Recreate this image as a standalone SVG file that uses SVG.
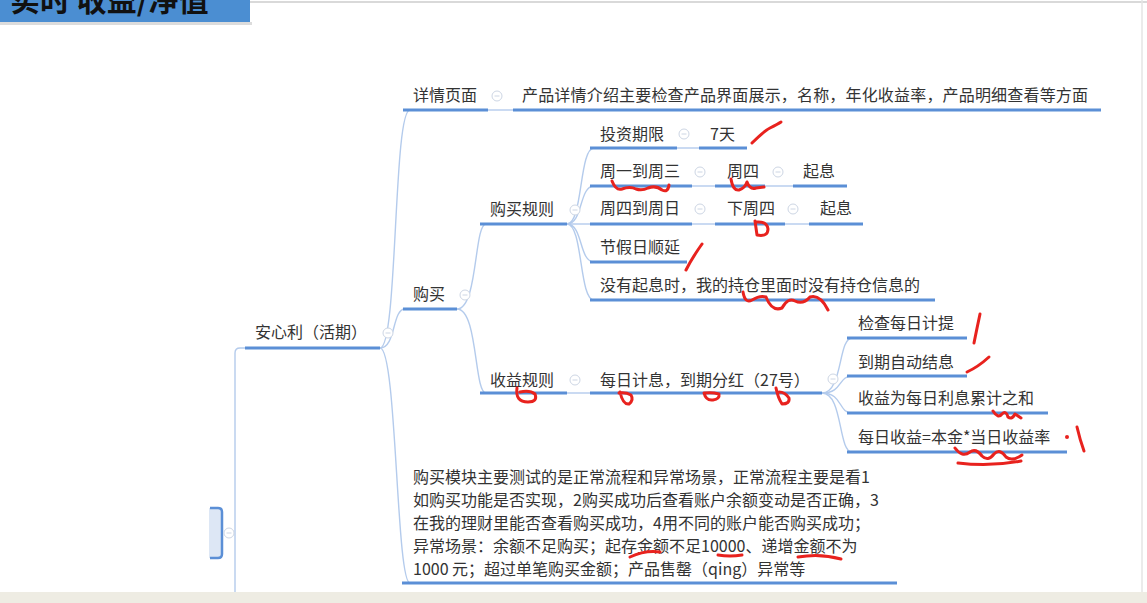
<svg xmlns="http://www.w3.org/2000/svg" width="1147" height="603" viewBox="0 0 1147 603">
<defs>
<style>
.t{font-family:"Noto Sans CJK SC","Noto Sans",sans-serif;font-size:16px;fill:#333}
.u{stroke:#5b8fd6;stroke-width:3;fill:none;stroke-linecap:butt}
.c{stroke:#b4cbec;stroke-width:1.4;fill:none}
.k{fill:#fff;stroke:#cdd6e4;stroke-width:1}
.km{stroke:#cdd6e4;stroke-width:1}
.r{stroke:#e8221e;stroke-width:3;fill:none;stroke-linecap:round;stroke-linejoin:round}
</style>
<clipPath id="hc"><rect x="0" y="0" width="250" height="22"/></clipPath>
<g id="col"><circle class="k" cx="0" cy="0" r="5"/><line class="km" x1="-2.5" y1="0" x2="2.5" y2="0"/></g>
</defs>
<rect x="0" y="0" width="1147" height="603" fill="#fff"/>
<line x1="250" y1="2" x2="1147" y2="2" stroke="#d9d9d9" stroke-width="2"/>
<line x1="1142" y1="0" x2="1142" y2="592" stroke="#e4e4e4" stroke-width="1.5"/>
<rect x="0" y="592" width="1147" height="11" fill="#eeece3"/>

<g id="header">
<rect x="0" y="22" width="252" height="3" fill="#c4c4c4" opacity="0.6"/>
<rect x="0" y="0" width="250" height="22" fill="#4b8ed2"/>
<g clip-path="url(#hc)"><text x="10" y="11" style="font-family:'Noto Sans CJK SC',sans-serif;font-size:30px;font-weight:700;fill:#111">实时 收益/净值</text></g>
</g>

<g id="connectors">
<path class="c" d="M245,348 L240,348 Q235,348 235,353 L235,592"/>
<path class="c" d="M380,348 C398,348 393,110 410,110"/>
<path class="c" d="M380,348 C396,348 392,309 405,309"/>
<path class="c" d="M380,348 C397,348 396,583 410,583"/>
<path class="c" d="M457,309 C478,309 474,224 486,224"/>
<path class="c" d="M457,309 C478,309 474,393 486,393"/>
<path class="c" d="M567,224 C583,224 579,148 594,148"/>
<path class="c" d="M567,224 C583,224 579,186 594,186"/>
<path class="c" d="M567,224 L594,224"/>
<path class="c" d="M567,224 C583,224 579,262 594,262"/>
<path class="c" d="M567,224 C583,224 579,300 594,300"/>
<path class="c" d="M567,393 L594,393"/>
<path class="c" d="M822,393 C843,393 838,338 852,338"/>
<path class="c" d="M822,393 C843,393 838,376 852,376"/>
<path class="c" d="M822,393 C843,393 838,413 852,413"/>
<path class="c" d="M822,393 C843,393 838,452 852,452"/>
<line class="c" x1="488" y1="110" x2="513" y2="110"/>
<line class="c" x1="677" y1="148" x2="699" y2="148"/>
<line class="c" x1="692" y1="186" x2="715" y2="186"/>
<line class="c" x1="765" y1="186" x2="793" y2="186"/>
<line class="c" x1="692" y1="224" x2="715" y2="224"/>
<line class="c" x1="785" y1="224" x2="809" y2="224"/>
</g>

<g id="bracket">
<rect x="209" y="508" width="13" height="50" fill="#dde7f5"/>
<path d="M210,508 L218,508 Q222,508 222,512 L222,554 Q222,558 218,558 L210,558" stroke="#5b8fd6" stroke-width="2.5" fill="none"/>
<use href="#col" x="229" y="533"/>
</g>

<g id="root">
<text class="t" x="255" y="338">安心利（活期）</text>
<line class="u" x1="245" y1="348" x2="380" y2="348"/>
<use href="#col" x="388" y="333"/>
</g>

<g id="detail">
<text class="t" x="413" y="101">详情页面</text>
<line class="u" x1="403" y1="110" x2="488" y2="110"/>
<use href="#col" x="497" y="96"/>
</g>
<g id="detail-desc">
<text class="t" x="522" y="101" textLength="566" lengthAdjust="spacing">产品详情介绍主要检查产品界面展示，名称，年化收益率，产品明细查看等方面</text>
<line class="u" x1="513" y1="110" x2="1101" y2="110"/>
</g>

<g id="buy">
<text class="t" x="413" y="300">购买</text>
<line class="u" x1="403" y1="309" x2="457" y2="309"/>
<use href="#col" x="465" y="295"/>
</g>

<g id="buy-rules">
<text class="t" x="490" y="215">购买规则</text>
<line class="u" x1="480" y1="224" x2="567" y2="224"/>
<use href="#col" x="575" y="210"/>
</g>

<g id="term">
<text class="t" x="600" y="140">投资期限</text>
<line class="u" x1="590" y1="148" x2="677" y2="148"/>
<use href="#col" x="684" y="134"/>
</g>
<g id="term-7">
<text class="t" x="710" y="140">7天</text>
<line class="u" x1="699" y1="148" x2="747" y2="148"/>
</g>

<g id="mon-wed">
<text class="t" x="600" y="177">周一到周三</text>
<line class="u" x1="590" y1="186" x2="692" y2="186"/>
<use href="#col" x="700" y="172"/>
</g>
<g id="thu">
<text class="t" x="727" y="177">周四</text>
<line class="u" x1="715" y1="186" x2="765" y2="186"/>
<use href="#col" x="778" y="172"/>
</g>
<g id="qixi1">
<text class="t" x="803" y="177">起息</text>
<line class="u" x1="793" y1="186" x2="847" y2="186"/>
</g>

<g id="thu-sun">
<text class="t" x="600" y="214">周四到周日</text>
<line class="u" x1="590" y1="224" x2="692" y2="224"/>
<use href="#col" x="700" y="209"/>
</g>
<g id="next-thu">
<text class="t" x="727" y="214">下周四</text>
<line class="u" x1="715" y1="224" x2="785" y2="224"/>
<use href="#col" x="793" y="209"/>
</g>
<g id="qixi2">
<text class="t" x="820" y="214">起息</text>
<line class="u" x1="809" y1="224" x2="863" y2="224"/>
</g>

<g id="holiday">
<text class="t" x="600" y="253">节假日顺延</text>
<line class="u" x1="590" y1="262" x2="687" y2="262"/>
</g>

<g id="no-interest">
<text class="t" x="600" y="291">没有起息时，我的持仓里面时没有持仓信息的</text>
<line class="u" x1="590" y1="300" x2="935" y2="300"/>
</g>

<g id="income-rules">
<text class="t" x="490" y="386">收益规则</text>
<line class="u" x1="480" y1="393" x2="567" y2="393"/>
<use href="#col" x="575" y="380"/>
</g>
<g id="daily">
<text class="t" x="600" y="386">每日计息，到期分红（27号）</text>
<line class="u" x1="590" y1="393" x2="822" y2="393"/>
<use href="#col" x="833" y="379"/>
</g>

<g id="check-daily">
<text class="t" x="858" y="329">检查每日计提</text>
<line class="u" x1="847" y1="338" x2="967" y2="338"/>
</g>
<g id="auto-settle">
<text class="t" x="858" y="368">到期自动结息</text>
<line class="u" x1="847" y1="376" x2="967" y2="376"/>
</g>
<g id="sum">
<text class="t" x="858" y="404">收益为每日利息累计之和</text>
<line class="u" x1="847" y1="413" x2="1048" y2="413"/>
</g>
<g id="formula">
<text class="t" x="858" y="443">每日收益=本金*当日收益率</text>
<line class="u" x1="847" y1="452" x2="1067" y2="452"/>
</g>

<g id="summary">
<text class="t" x="413" y="483">购买模块主要测试的是正常流程和异常场景，正常流程主要是看1</text>
<text class="t" x="413" y="506">如购买功能是否实现，2购买成功后查看账户余额变动是否正确，3</text>
<text class="t" x="413" y="529">在我的理财里能否查看购买成功，4用不同的账户能否购买成功；</text>
<text class="t" x="413" y="552">异常场景：余额不足购买；起存金额不足10000、递增金额不为</text>
<text class="t" x="413" y="575">1000 元；超过单笔购买金额；产品售罄（qing）异常等</text>
<line class="u" x1="402" y1="583" x2="897" y2="583"/>
</g>

<g id="annotations">
<path class="r" d="M752,143 C758,137 764,131 770,128 C774,126 778,124 781,122"/>
<path class="r" d="M612,181 Q616,191 622,189 Q630,186 636,189 Q642,191 648,188 Q656,185 662,190 Q668,193 669,185"/>
<path class="r" d="M731,179 Q733,191 739,190 Q745,188 747,182 Q750,190 756,188 L764,187"/>
<path class="r" d="M755,221 L757,235 Q768,237 768,229 Q767,221 756,222"/>
<path class="r" d="M686,270 Q692,258 702,244"/>
<path class="r" d="M743,292 Q745,304 752,300 Q760,295 766,297 Q772,312 782,308 Q788,297 795,301 Q803,305 810,297 Q820,294 828,310"/>
<path class="r" d="M517,388 Q515,402 528,402 Q538,402 535,394 Q530,390 520,392"/>
<path class="r" d="M620,392 Q623,405 629,404 Q634,400 631,395 Q626,392 619,393"/>
<path class="r" d="M704,393 Q706,401 713,400 Q720,399 719,394 Q712,392 705,393"/>
<path class="r" d="M776,388 Q778,398 782,404 Q790,404 789,398 Q785,392 779,392"/>
<path class="r" d="M980,314 Q977,328 974,343"/>
<path class="r" d="M967,372 Q978,367 989,357"/>
<path class="r" d="M993,411 Q998,419 1002,414 Q1006,410 1008,417 Q1012,420 1015,414 L1021,418"/>
<path class="r" d="M955,448 Q962,458 970,452 Q976,448 982,456 Q988,462 994,454 Q1000,448 1006,457 Q1012,462 1022,455 M958,463 Q990,467 1021,461"/>
<circle cx="1067" cy="437" r="2" fill="#e8221e"/>
<path class="r" d="M1077,427 Q1080,440 1084,451"/>
<path class="r" d="M630,557 Q645,550 660,552"/>
<path class="r" d="M718,555 Q730,557 742,555"/>
<path class="r" d="M798,557 Q820,553 841,559"/>
</g>
</svg>
